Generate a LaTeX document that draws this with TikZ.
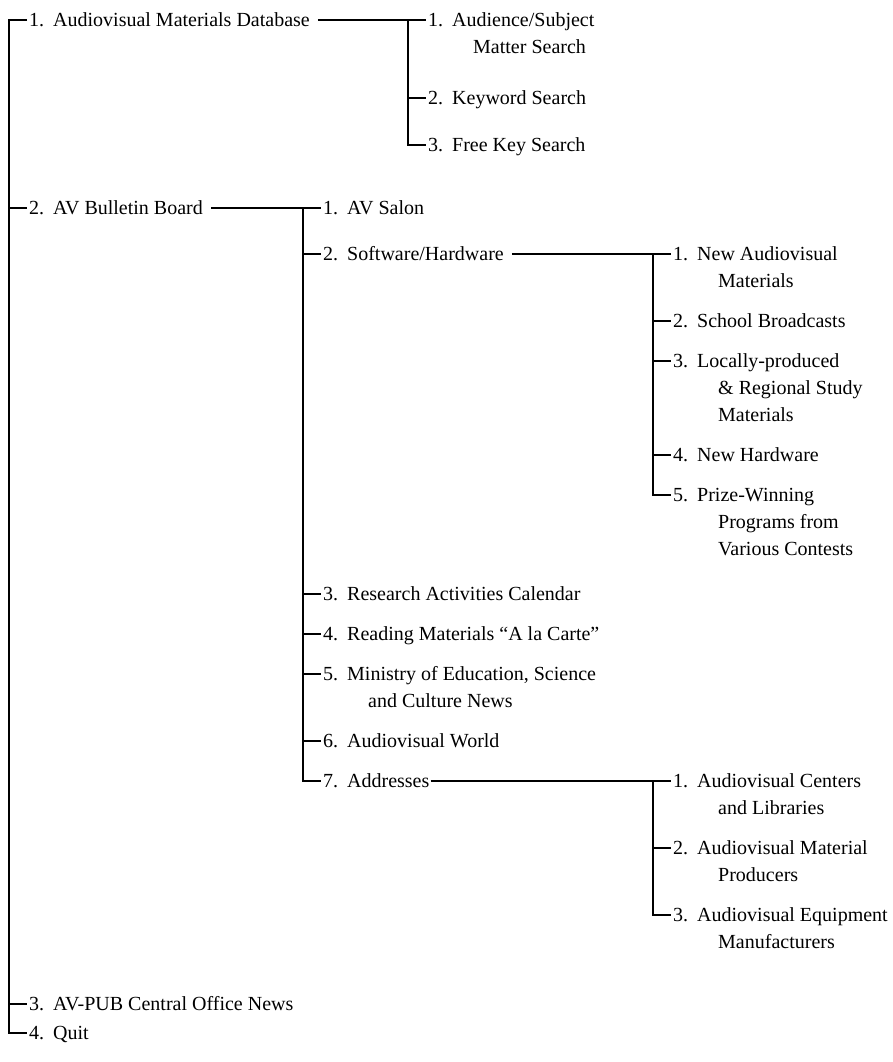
\documentclass[tikz,border=0pt]{standalone}
\usepackage{fontspec}
\setmainfont{Liberation Serif}
\newcommand{\lbl}[2]{\makebox[24pt][l]{#1}#2}
\begin{document}
\begin{tikzpicture}[x=1pt,y=-1pt,
  lab/.style={anchor=west, inner sep=0pt, text height=13pt, text depth=0pt,
              font=\fontsize{20}{27}\selectfont},
  link/.style={line width=1.1pt, line cap=butt},
  tick/.style={link, shorten >=2pt}]
\useasboundingbox (0,0) rectangle (892,1062);
% junction columns
\coordinate (j0) at (9,0);
\coordinate (ja) at (408,0);
\coordinate (jb) at (303,0);
\coordinate (jc) at (653,0);
% level 0
\node[lab] (m1) at (29,20)   {\lbl{1.}{Audiovisual Materials Database}};
\node[lab] (m2) at (29,208)  {\lbl{2.}{AV Bulletin Board}};
\node[lab] (m3) at (29,1004) {\lbl{3.}{AV-PUB Central Office News}};
\node[lab] (m4) at (29,1033) {\lbl{4.}{Quit}};
% under 1. Audiovisual Materials Database
\node[lab] (a1)  at (428,20)  {\lbl{1.}{Audience/Subject}};
\node[lab] (a1b) at (473,47)  {Matter Search};
\node[lab] (a2)  at (428,98)  {\lbl{2.}{Keyword Search}};
\node[lab] (a3)  at (428,145) {\lbl{3.}{Free Key Search}};
% under 2. AV Bulletin Board
\node[lab] (b1)  at (323,208) {\lbl{1.}{AV Salon}};
\node[lab] (b2)  at (323,254) {\lbl{2.}{Software/Hardware}};
\node[lab] (b3)  at (323,594) {\lbl{3.}{Research Activities Calendar}};
\node[lab] (b4)  at (323,634) {\lbl{4.}{Reading Materials “A la Carte”}};
\node[lab] (b5)  at (323,674) {\lbl{5.}{Ministry of Education, Science}};
\node[lab] (b5b) at (368,701) {and Culture News};
\node[lab] (b6)  at (323,741) {\lbl{6.}{Audiovisual World}};
\node[lab] (b7)  at (323,781) {\lbl{7.}{Addresses}};
% under 2. Software/Hardware
\node[lab] (c1)  at (673,254) {\lbl{1.}{New Audiovisual}};
\node[lab] (c1b) at (718,281) {Materials};
\node[lab] (c2)  at (673,321) {\lbl{2.}{School Broadcasts}};
\node[lab] (c3)  at (673,361) {\lbl{3.}{Locally-produced}};
\node[lab] (c3b) at (718,388) {\& Regional Study};
\node[lab] (c3c) at (718,415) {Materials};
\node[lab] (c4)  at (673,455) {\lbl{4.}{New Hardware}};
\node[lab] (c5)  at (673,495) {\lbl{5.}{Prize-Winning}};
\node[lab] (c5b) at (718,522) {Programs from};
\node[lab] (c5c) at (718,549) {Various Contests};
% under 7. Addresses
\node[lab] (d1)  at (673,781) {\lbl{1.}{Audiovisual Centers}};
\node[lab] (d1b) at (718,808) {and Libraries};
\node[lab] (d2)  at (673,848) {\lbl{2.}{Audiovisual Material}};
\node[lab] (d2b) at (718,875) {Producers};
\node[lab] (d3)  at (673,915) {\lbl{3.}{Audiovisual Equipment}};
\node[lab] (d3b) at (718,942) {Manufacturers};
% connectors level 0
\draw[link, shorten <=2pt, shorten >=2pt] (m1.west) -| (m4.west -| j0) -- (m4.west);
\draw[tick] (m2.west -| j0) -- (m2.west);
\draw[tick] (m3.west -| j0) -- (m3.west);
% connectors under 1.
\draw[tick] ([xshift=8pt]m1.east) -- (a1.west);
\draw[link, shorten >=2pt] (a1.west -| ja) |- (a3.west);
\draw[tick] (a2.west -| ja) -- (a2.west);
% connectors under 2.
\draw[tick] ([xshift=8pt]m2.east) -- (b1.west);
\draw[link, shorten >=2pt] (b1.west -| jb) |- (b7.west);
\foreach \n in {b2,b3,b4,b5,b6} \draw[tick] (\n.west -| jb) -- (\n.west);
% connectors under Software/Hardware
\draw[tick] ([xshift=8pt]b2.east) -- (c1.west);
\draw[link, shorten >=2pt] (c1.west -| jc) |- (c5.west);
\foreach \n in {c2,c3,c4} \draw[tick] (\n.west -| jc) -- (\n.west);
% connectors under Addresses
\draw[tick] ([xshift=1pt]b7.east) -- (d1.west);
\draw[link, shorten >=2pt] (d1.west -| jc) |- (d3.west);
\draw[tick] (d2.west -| jc) -- (d2.west);
\end{tikzpicture}
\end{document}
